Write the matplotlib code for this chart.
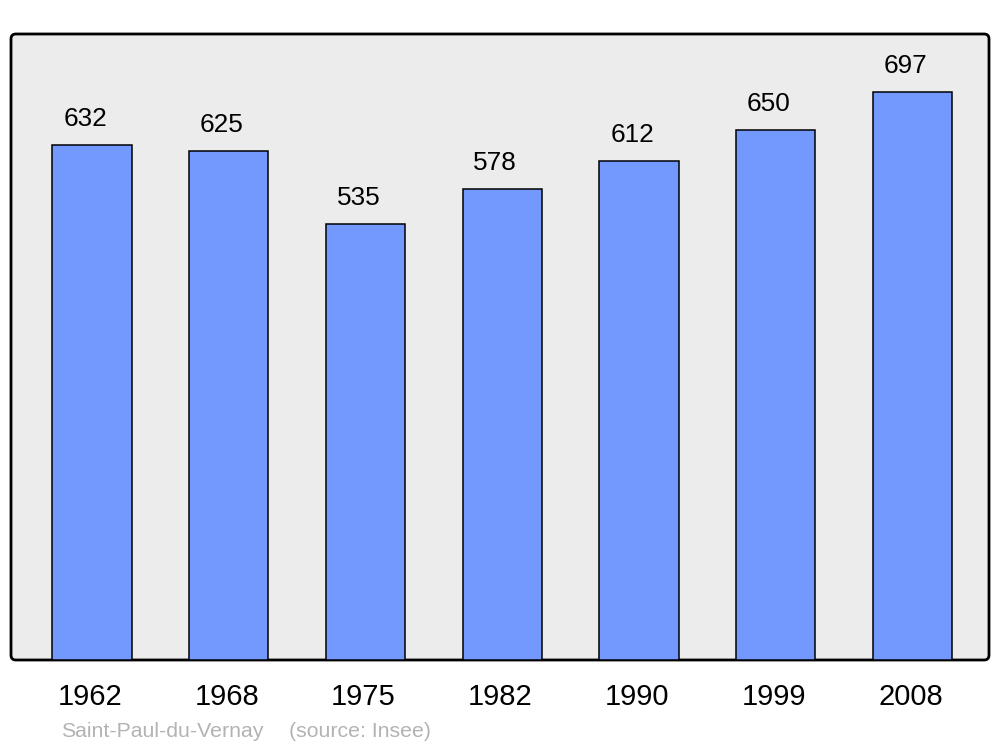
import matplotlib.pyplot as plt
from matplotlib.patches import FancyBboxPatch

plt.rcParams['font.family'] = ['Liberation Sans', 'DejaVu Sans']

years = ['1962', '1968', '1975', '1982', '1990', '1999', '2008']
population = [632, 625, 535, 578, 612, 650, 697]

fig = plt.figure(figsize=(10, 7.47), dpi=100)
ax = fig.add_axes([0.011, 1 - 660 / 747, 0.978, 626 / 747])

# grey panel with rounded black frame
ax.patch.set_visible(False)
for s in ax.spines.values():
    s.set_visible(False)
frame = FancyBboxPatch((0, 0), 1, 1, boxstyle='round,pad=0,rounding_size=0.005',
                       mutation_aspect=978 / 626, transform=ax.transAxes,
                       facecolor='#ececec', edgecolor='black', linewidth=2,
                       clip_on=False, zorder=0)
ax.add_patch(frame)

x = list(range(len(years)))
ax.bar(x, population, width=0.58, color='#7399ff', edgecolor='black',
       linewidth=1.1, zorder=2)

for i, v in enumerate(population):
    ax.annotate(str(v), xy=(i, v), xytext=(-5, 13.5), textcoords='offset points',
                ha='center', va='baseline', fontsize=18.8)
    ax.annotate(years[i], xy=(i, 0), xycoords=('data', 'axes fraction'),
                xytext=(-1.5, -32.4), textcoords='offset points',
                ha='center', va='baseline', fontsize=21, annotation_clip=False)

ax.set_xlim(-0.592, 6.559)
ax.set_ylim(0, 768)
ax.set_xticks([])
ax.set_yticks([])

fig.text(0.061, 1 - 737 / 747, 'Saint-Paul-du-Vernay', color='#b3b3b3',
         fontsize=15.3, ha='left', va='baseline')
fig.text(0.289, 1 - 737 / 747, '(source: Insee)', color='#b3b3b3',
         fontsize=15.3, ha='left', va='baseline')

fig.savefig('out.png', dpi=100)
